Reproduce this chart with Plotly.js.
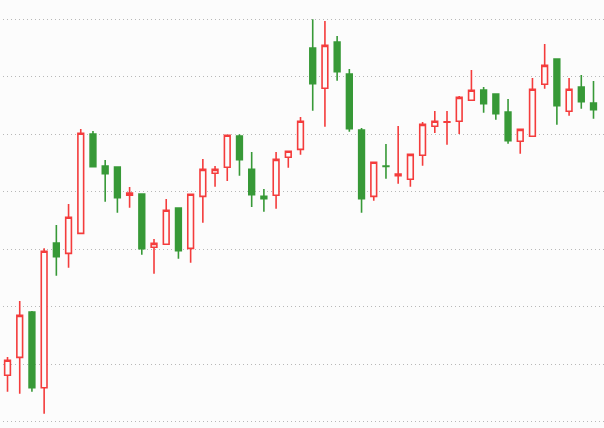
<!DOCTYPE html>
<html>
<head>
<meta charset="utf-8">
<script src="https://cdn.plot.ly/plotly-3.0.1.min.js"></script>
<style>
html,body{margin:0;padding:0;background:#fcfcfc;}
#chart{width:604px;height:428px;}
</style>
</head>
<body>
<div id="chart"></div>
<script>
// Session index (x) and OHLC prices
var sessions = [0,1,2,3,4,5,6,7,8,9,10,11,12,13,14,15,16,17,18,19,20,21,22,23,24,25,26,27,28,29,30,31,32,33,34,35,36,37,38,39,40,41,42,43,44,45,46,47,48];
var openPrices = [108.04,111.17,119.06,105.88,131.07,129.27,132.75,150.04,144.47,144.29,139.37,139.59,130.32,130.84,137.16,130.14,139.19,143.20,144.24,149.69,143.91,139.19,139.37,145.98,147.37,165.00,157.99,166.05,160.48,150.73,139.19,144.44,142.78,142.15,146.33,151.38,152.11,152.25,155.90,157.69,157.00,153.87,148.77,149.64,158.69,163.09,153.99,158.22,155.43];
var highPrices = [111.23,120.97,119.23,130.14,134.20,137.85,150.91,150.56,145.51,144.29,140.81,139.59,131.76,138.72,137.16,139.54,145.69,144.47,149.81,149.98,146.90,140.46,146.90,147.03,152.99,170.00,169.70,167.09,161.35,151.08,145.11,148.30,151.43,146.50,152.13,154.04,154.04,156.65,161.18,158.22,157.00,156.13,150.85,159.78,165.70,163.09,159.78,160.30,159.26];
var lowPrices = [105.19,104.84,105.19,101.36,125.38,126.77,132.60,144.35,138.25,136.34,137.21,129.03,125.72,130.84,128.33,127.64,134.60,140.86,141.86,142.78,137.33,136.51,137.04,144.17,146.43,154.09,151.31,159.31,150.44,136.34,138.43,142.26,141.39,140.86,144.52,150.21,148.17,150.04,155.90,153.74,152.53,148.35,146.61,149.64,157.92,151.66,153.22,154.44,152.70];
var closePrices = [110.65,118.48,105.88,129.62,128.68,135.54,150.16,144.35,143.13,138.95,139.77,130.07,131.01,136.76,129.73,139.54,143.89,143.89,149.81,145.56,139.47,138.78,145.63,147.03,152.25,158.79,165.47,160.88,150.96,138.78,145.11,144.40,143.07,146.50,151.72,152.25,152.15,156.42,157.64,155.31,153.57,148.87,150.85,157.82,161.99,154.96,157.82,155.66,154.27];
var gridValues = [100,110,120,130,140,150,160,170];

var trace = {
  type: 'candlestick',
  x: sessions,
  open: openPrices,
  high: highPrices,
  low: lowPrices,
  close: closePrices,
  increasing: {line: {color: '#f43c3c', width: 1.6}, fillcolor: '#fcfcfc'},
  decreasing: {line: {color: '#379937', width: 1.6}, fillcolor: '#379937'},
  whiskerwidth: 0,
  hoverinfo: 'none',
  showlegend: false
};

var layout = {
  width: 604,
  height: 428,
  margin: {l: 3, r: 0, t: 0, b: 0, pad: 0},
  paper_bgcolor: '#fcfcfc',
  plot_bgcolor: '#fcfcfc',
  showlegend: false,
  boxgap: 0.33,
  xaxis: {
    range: [-0.37, 48.86],
    showgrid: false,
    zeroline: false,
    showticklabels: false,
    ticks: '',
    showline: false,
    rangeslider: {visible: false},
    fixedrange: true
  },
  yaxis: {
    range: [98.87, 173.36],
    tickmode: 'array',
    tickvals: gridValues,
    showticklabels: false,
    ticks: '',
    showgrid: true,
    gridcolor: '#b8b8b8',
    gridwidth: 1,
    griddash: '1px,3px',
    zeroline: false,
    showline: false,
    fixedrange: true
  }
};

Plotly.newPlot('chart', [trace], layout, {staticPlot: true, displayModeBar: false});
</script>
</body>
</html>
